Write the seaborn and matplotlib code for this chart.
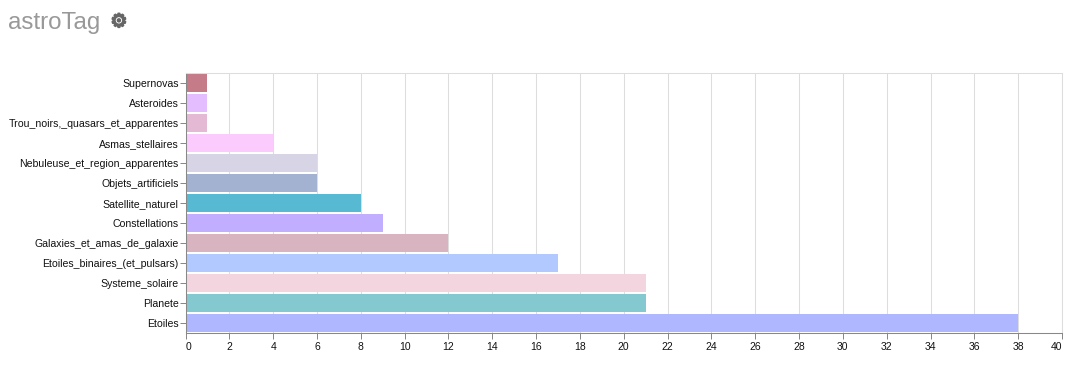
import matplotlib
matplotlib.use("Agg")
import matplotlib.pyplot as plt
import matplotlib.patheffects as pe
import seaborn as sns
import pandas as pd

categories = ["Supernovas", "Asteroides", "Trou_noirs,_quasars_et_apparentes", "Asmas_stellaires",
              "Nebuleuse_et_region_apparentes", "Objets_artificiels", "Satellite_naturel", "Constellations",
              "Galaxies_et_amas_de_galaxie", "Etoiles_binaires_(et_pulsars)", "Systeme_solaire", "Planete", "Etoiles"]
values = [1, 1, 1, 4, 6, 6, 8, 9, 12, 17, 21, 21, 38]
colors = ["#c67b88", "#e3bdff", "#e3b9d4", "#fccbfd", "#d7d5e5", "#a2b2d0", "#58b9d3", "#c2aeff",
          "#d8b3c0", "#b2c9ff", "#f2d5df", "#84c9d0", "#aeb7ff"]
xticks = list(range(0, 41, 2))
title = "astroTag"

sns.set_theme(style="white")
plt.rcParams["font.family"] = ["Liberation Sans", "DejaVu Sans"]

W, H = 1077, 383
fig = plt.figure(figsize=(W / 100, H / 100), dpi=100)
ax = fig.add_axes([185.5 / W, 1 - 333 / H, (1062 - 185.5) / W, 260 / H])

df = pd.DataFrame({"tag": categories, "count": values})
sns.barplot(data=df, y="tag", x="count", hue="tag", palette=colors, order=categories,
            hue_order=categories, dodge=False, width=0.9, legend=False, saturation=1,
            linewidth=0, ax=ax, zorder=2)

ax.set_xlim(0, 40)
ax.set_ylim(12.5, -0.5)
ax.set_xticks(xticks)
ax.set_xlabel("")
ax.set_ylabel("")
ax.xaxis.grid(True, color="#dddddd", linewidth=0.75, zorder=1)
ax.set_axisbelow(True)
ax.tick_params(axis="x", length=4.3, width=0.72, color="#888888", labelsize=7.5, labelcolor="#111111", pad=2.5, bottom=True)
ax.tick_params(axis="y", length=4.3, width=0.72, color="#888888", labelsize=7.55, labelcolor="#111111", pad=0.6, left=True)
labels = ax.get_xticklabels()
labels[0].set_ha("left")
labels[-1].set_ha("right")
for s in ["top", "right"]:
    ax.spines[s].set_color("#dddddd")
    ax.spines[s].set_linewidth(0.75)
for s in ["left", "bottom"]:
    ax.spines[s].set_color("#888888")
    ax.spines[s].set_linewidth(0.75)

fig.text(8 / W, 1 - 28.5 / H, title, fontsize=17.4, color="#999999", family="Liberation Sans")
fig.text(110.5 / W, 1 - 27 / H, "\u2699", fontsize=13.5, color="#666666", family="DejaVu Sans",
         path_effects=[pe.withStroke(linewidth=1.2, foreground="#666666")])

fig.savefig("out.png", dpi=100)
